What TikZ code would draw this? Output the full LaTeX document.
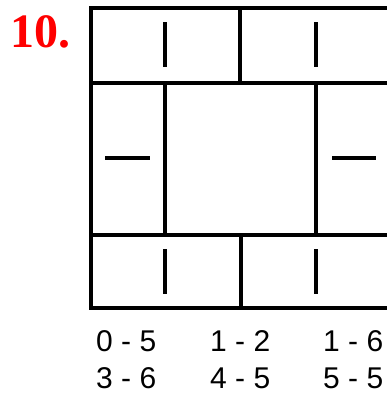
\documentclass[tikz,border=0pt]{standalone}
\usepackage{fontspec}
\setmainfont{Liberation Serif}
\setsansfont{Liberation Sans}
\begin{document}
\begin{tikzpicture}[x=1pt,y=-1pt]
			\tikzset{
				frame/.style={line width=3.2pt},
				dashmark/.style={line width=3.2pt},
				pairlabel/.style={anchor=base west, inner sep=0, font=\sffamily\fontsize{30}{30}\selectfont},
			}
			\useasboundingbox (0,0) rectangle (387,394);
			\node[anchor=base west, inner sep=0, text=red, font=\bfseries\fontsize{48}{48}\selectfont] (num) at (10,47) {10.};
			% grid
			\begin{scope}
				\clip (0,0) rectangle (387,394);
				\draw[frame] (392,8) -- (91,8) -- (91,308) -- (392,308);
				\draw[frame] (91,83) -- (392,83);
				\draw[frame] (91,235) -- (392,235);
				\draw[frame] (240,8) -- (240,83);
				\draw[frame] (165,83) -- (165,235);
				\draw[frame] (316,83) -- (316,235);
				\draw[frame] (241,235) -- (241,308);
			\end{scope}
			% marks
			\foreach \x in {165,316}
				{
					\draw[dashmark] (\x,22) -- (\x,67);
					\draw[dashmark] (\x,249) -- (\x,294);
				}
			\draw[dashmark] (105,158) -- (150,158);
			\draw[dashmark] (332,158) -- (376,158);
			% pairs
			\node[pairlabel] (p1) at (96,351.5) {0 - 5};
			\node[pairlabel] (p2) at (210,351.5) {1 - 2};
			\node[pairlabel] (p3) at (323,351.5) {1 - 6};
			\node[pairlabel] (p4) at (96,388) {3 - 6};
			\node[pairlabel] (p5) at (210,388) {4 - 5};
			\node[pairlabel] (p6) at (323,388) {5 - 5};
		\end{tikzpicture}
\end{document}
